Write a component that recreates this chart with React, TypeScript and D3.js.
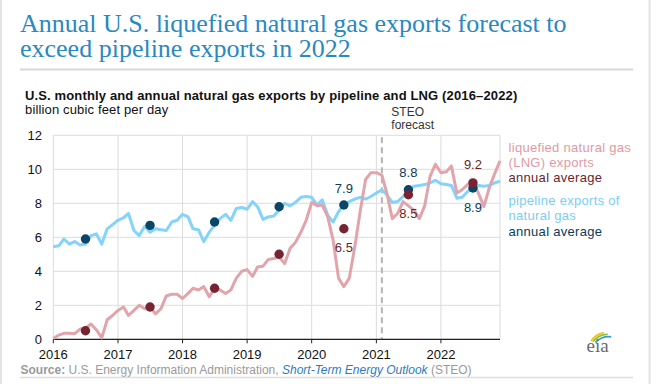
import React from 'react';
import * as d3 from 'd3';

const W = 669;
const H = 384;

const years = [2016, 2017, 2018, 2019, 2020, 2021, 2022];
const pipelineAnnual = [5.9, 6.7, 6.9, 7.8, 7.9, 8.8, 8.9];
const lngAnnual = [0.5, 1.9, 3.0, 5.0, 6.5, 8.5, 9.2];

const pipelineMonthly = [
  5.45, 5.5, 5.9, 5.6, 5.75, 5.55, 5.6, 6.1, 6.2, 5.6, 6.5, 6.75,
  7.0, 7.15, 7.4, 6.4, 6.1, 6.65, 6.3, 6.5, 6.45, 6.4, 6.9, 7.0,
  7.35, 7.2, 6.5, 6.45, 5.75, 6.3, 6.7, 7.1, 7.35, 7.0, 7.7, 7.75,
  7.65, 8.1, 7.8, 7.05, 7.2, 7.25, 7.6, 8.0, 7.85, 8.05, 8.35, 8.4,
  8.35, 7.9, 8.2, 7.3, 6.9, 7.5, 7.95, 8.1, 8.25, 8.35, 8.25, 8.4,
  8.6, 8.8, 8.5, 8.05, 8.1, 8.4, 8.75, 9.0, 9.05, 9.1, 9.2, 9.35,
  9.15, 9.1, 9.05, 8.3, 8.35, 8.7, 8.9, 9.05, 9.0, 9.05, 9.2, 9.3,
];

const lngMonthly = [
  0.05, 0.25, 0.35, 0.35, 0.33, 0.6, 0.65, 0.9, 0.55, 0.08, 1.15, 1.4,
  1.7, 1.9, 1.4, 1.7, 2.0, 1.8, 1.9, 1.5, 1.8, 2.55, 2.65, 2.65,
  2.4, 2.7, 3.0, 2.9, 3.1, 2.5, 3.0, 2.9, 2.7, 2.9, 3.6, 4.0,
  4.1, 3.7, 4.25, 4.3, 4.7, 4.75, 4.85, 4.45, 5.35, 5.7, 6.3, 7.0,
  8.05, 7.85, 7.9, 7.2, 5.85, 3.6, 3.1, 3.6, 5.45, 7.5, 9.4, 9.8,
  9.8, 9.65, 8.6, 7.1, 7.4, 8.1, 7.85, 7.6, 7.1, 7.85, 9.6, 10.3,
  9.8, 9.85, 10.2, 8.6, 8.8, 9.1, 9.3, 8.6, 7.8, 8.9, 9.75, 10.5,
];

const yTicks = [0, 2, 4, 6, 8, 10, 12];
const labeledYears = [2020, 2021, 2022];
const pipelineLabelPos = ['above', 'above', 'below'];
const lngLabelPos = ['below', 'below', 'above'];
const forecastStart = new Date(2021, 1, 1);

const titleLines = [
  'Annual U.S. liquefied natural gas exports forecast to',
  'exceed pipeline exports in 2022',
];
const subtitle = 'U.S. monthly and annual natural gas exports by pipeline and LNG (2016\u20132022)';
const unitLabel = 'billion cubic feet per day';
const lngLegend = ['liquefied natural gas', '(LNG) exports', 'annual average'];
const pipeLegend = ['pipeline exports of', 'natural gas', 'annual average'];

const SANS = '"Liberation Sans", Arial, Helvetica, sans-serif';
const SERIF = '"Liberation Serif", "Times New Roman", serif';

const C = {
  title: '#2a88c2',
  grid: '#dcdcdc',
  pipe: '#83d3fa',
  lng: '#e2a4ab',
  navy: '#0c4667',
  maroon: '#772331',
  pipeText: '#7ccdf4',
  lngText: '#e19aa3',
  navyText: '#0d3b58',
  maroonText: '#6a1f2c',
};

export default function App() {
  const x = d3
    .scaleTime()
    .domain([new Date(2016, 0, 1), new Date(2022, 11, 1)])
    .range([53.3, 500]);
  const y = d3.scaleLinear().domain([0, 12]).range([339.3, 135.3]);
  const months = pipelineMonthly.map((_, i) => new Date(2016, i, 1));
  const line = d3
    .line<number>()
    .x((_, i) => x(months[i]))
    .y((d) => y(d));
  const yearTicks = years.map((yr) => new Date(yr, 0, 1));
  const mid = (yr: number) => x(new Date(yr, 6, 1));
  const fmt = d3.format('.1f');
  const [x0, x1] = x.range();
  const [y0, y1] = y.range();

  return (
    <svg
      width={W}
      height={H}
      style={{ position: 'absolute', left: 0, top: 0, background: '#fff' }}
    >
      {/* frame */}
      <line x1={1} x2={1} y1={0} y2={H} stroke="#e4e4e4" strokeWidth={2} />
      <line x1={649.5} x2={649.5} y1={0} y2={H} stroke="#e4e4e4" strokeWidth={2} />

      {/* title */}
      {titleLines.map((t, i) => (
        <text
          key={t}
          x={20}
          y={32.3 + i * 25}
          fontFamily={SERIF}
          fontSize={26}
          fill={C.title}
        >
          {t}
        </text>
      ))}
      <line x1={20} x2={633} y1={69.5} y2={69.5} stroke="#d9d9d9" strokeWidth={2} />

      <text x={25} y={100} fontFamily={SANS} fontSize={13} fontWeight="bold" fill="#111" letterSpacing={0.14}>
        {subtitle}
      </text>
      <text x={25} y={114} fontFamily={SANS} fontSize={13} fill="#111" letterSpacing={0.15}>
        {unitLabel}
      </text>

      {/* grid */}
      {yTicks.map((t) => (
        <line key={'gy' + t} x1={x0} x2={x1} y1={y(t)} y2={y(t)} stroke={C.grid} strokeWidth={1} />
      ))}
      {yearTicks.map((d) => (
        <line key={'gx' + d.getFullYear()} x1={x(d)} x2={x(d)} y1={y1} y2={y0} stroke={C.grid} strokeWidth={1} />
      ))}
      <line x1={x1} x2={x1} y1={y1} y2={y0} stroke={C.grid} strokeWidth={1} />

      {/* forecast divider */}
      <line
        x1={x(forecastStart)}
        x2={x(forecastStart)}
        y1={y1 + 2}
        y2={y0}
        stroke="#b5b5b5"
        strokeWidth={2}
        strokeDasharray="6,4"
      />
      <text x={x(forecastStart) + 9.5} y={116} fontFamily={SANS} fontSize={12} fill="#333">
        STEO
      </text>
      <text x={x(forecastStart) + 9.5} y={128.5} fontFamily={SANS} fontSize={12} fill="#333">
        forecast
      </text>

      {/* axes */}
      <line x1={x0} x2={x1} y1={y0} y2={y0} stroke="#222" strokeWidth={1.2} />
      {yearTicks.map((d) => (
        <g key={'tx' + d.getFullYear()}>
          <line x1={x(d)} x2={x(d)} y1={y0} y2={y0 + 4} stroke="#222" strokeWidth={1} />
          <text
            x={x(d)}
            y={359}
            textAnchor="middle"
            fontFamily={SANS}
            fontSize={13}
            fill="#111"
          >
            {d3.timeFormat('%Y')(d)}
          </text>
        </g>
      ))}
      {yTicks.map((t) => (
        <text
          key={'ty' + t}
          x={42}
          y={y(t) + 4.6}
          textAnchor="end"
          fontFamily={SANS}
          fontSize={13}
          fill="#111"
        >
          {t}
        </text>
      ))}

      {/* lines */}
      <path d={line(pipelineMonthly) || ''} fill="none" stroke={C.pipe} strokeWidth={3} strokeLinejoin="round" />
      <path d={line(lngMonthly) || ''} fill="none" stroke={C.lng} strokeWidth={3} strokeLinejoin="round" />

      {/* annual averages */}
      {years.map((yr, i) => (
        <circle key={'pd' + yr} cx={mid(yr)} cy={y(pipelineAnnual[i])} r={4.7} fill={C.navy} />
      ))}
      {years.map((yr, i) => (
        <circle key={'ld' + yr} cx={mid(yr)} cy={y(lngAnnual[i])} r={4.7} fill={C.maroon} />
      ))}
      {labeledYears.map((yr, k) => {
        const i = years.indexOf(yr);
        const py = y(pipelineAnnual[i]);
        const ly = y(lngAnnual[i]);
        return (
          <g key={'lab' + yr} fontFamily={SANS} fontSize={13} textAnchor="middle">
            <text x={mid(yr)} y={pipelineLabelPos[k] === 'above' ? py - 12.5 : py + 23.5} fill={C.navyText}>
              {fmt(pipelineAnnual[i])}
            </text>
            <text x={mid(yr)} y={lngLabelPos[k] === 'above' ? ly - 13.5 : ly + 23} fill={C.maroonText}>
              {fmt(lngAnnual[i])}
            </text>
          </g>
        );
      })}

      {/* legend */}
      <g fontFamily={SANS} fontSize={13} letterSpacing={0.3}>
        {lngLegend.map((t, i) => (
          <text key={'ll' + i} x={508.5} y={151.5 + i * 15} fill={i < 2 ? C.lngText : C.maroonText}>
            {t}
          </text>
        ))}
        {pipeLegend.map((t, i) => (
          <text key={'pl' + i} x={508.5} y={205 + i * 15.3} fill={i < 2 ? C.pipeText : C.navyText}>
            {t}
          </text>
        ))}
      </g>

      {/* source */}
      <text x={20.5} y={374.3} fontFamily={SANS} fontSize={12} fill="#9a9a9a">
        <tspan fontWeight="bold">Source:</tspan>
        <tspan> U.S. Energy Information Administration, </tspan>
        <tspan fontStyle="italic" fill="#2b7bbd">Short-Term Energy Outlook</tspan>
        <tspan> (STEO)</tspan>
      </text>
      <line x1={20} x2={633} y1={377.5} y2={377.5} stroke="#dedede" strokeWidth={1.5} />

      {/* eia logo */}
      <g fill="none" strokeWidth={1.8} strokeLinecap="round">
        <path d="M591.5,340.5 Q596,334 603,333" stroke="#f3c613" />
        <path d="M593.5,341 Q599,334.5 607,334.3" stroke="#8cc63f" />
        <path d="M596,342 Q602,336 610.5,336.8" stroke="#3a9bd9" />
      </g>
      <text x={586.5} y={351.5} fontFamily={SERIF} fontSize={19} fill="#6a6a6a">
        eia
      </text>
    </svg>
  );
}
